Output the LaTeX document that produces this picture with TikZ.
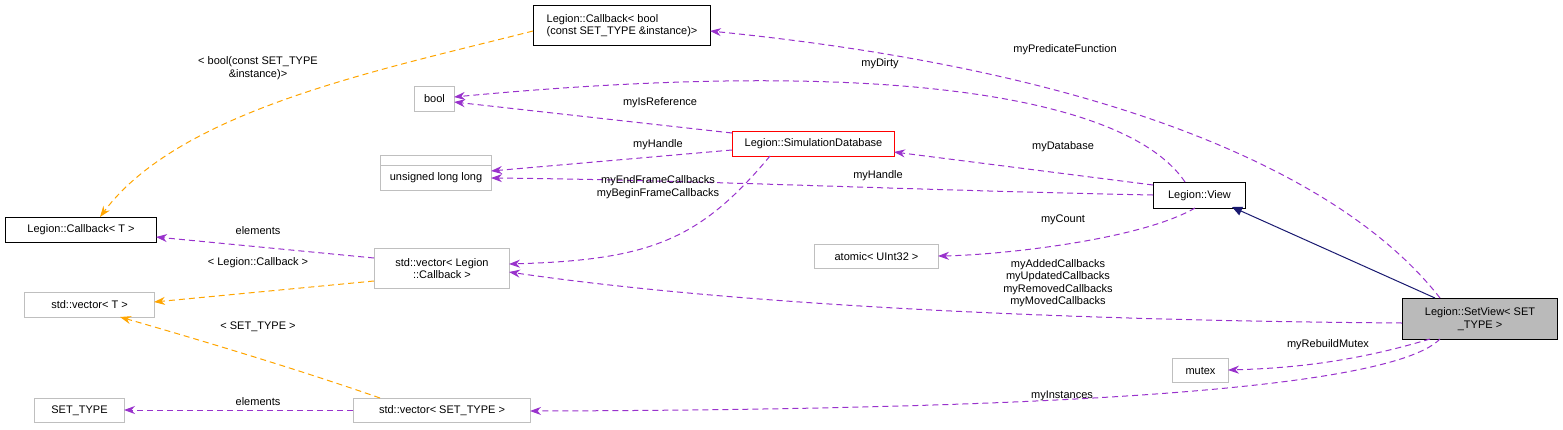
\documentclass[tikz,border=0pt]{standalone}
\usepackage{fontspec}
\setmainfont{Liberation Sans}
\usetikzlibrary{arrows.meta}
\definecolor{purp}{RGB}{153,50,204}
\definecolor{orng}{RGB}{255,165,0}
\definecolor{navy2}{RGB}{25,25,112}
\begin{document}
\begin{tikzpicture}[x=1pt,y=-1pt,font=\fontsize{11}{12.5}\selectfont,line width=1pt,
 box/.style={draw=black!25,fill=white,inner sep=0pt,align=center,anchor=north west},
 mem/.style={purp,dash pattern=on 6pt off 4pt,-{Stealth[length=11pt,width=8pt]}},
 tmpl/.style={orng,dash pattern=on 6pt off 4pt,-{Stealth[length=11pt,width=8pt]}},
 lbl/.style={align=center,inner sep=1pt}]
\useasboundingbox (0,0) rectangle (1563,429);
\newcommand{\bx}[6]{\node[box,#6,minimum width=#4-#2,minimum height=#5-#3] (#1) at (#2,#3) {};}
\bx{cbb}{533}{5}{710}{45}{draw=black}
\node at (cbb) [align=left] {Legion::Callback< bool\\(const SET\_TYPE \&instance)>};
\bx{bool}{414}{86}{454}{111}{}\node at (bool){bool};
\bx{sdb}{732}{131}{894}{156}{draw=red}\node at (sdb){Legion::SimulationDatabase};
\bx{ull}{380}{155}{491}{190}{}
\bx{ull}{380}{165}{491}{190}{}\node at (ull){unsigned long long};
\bx{view}{1153}{182}{1245}{208}{draw=black}\node at (view){Legion::View};
\bx{cbt}{5}{217}{156}{242}{draw=black}\node at (cbt){Legion::Callback< T >};
\bx{vcb}{374}{248}{509}{288}{}\node[align=center] at (vcb){std::vector< Legion\\::Callback >};
\bx{atom}{814}{244}{938}{268}{}\node at (atom){atomic< UInt32 >};
\bx{vt}{24}{292}{154}{317}{}\node at (vt){std::vector< T >};
\bx{sv}{1402}{298}{1557}{339}{draw=black,fill=black!27}\node[align=center] at (sv){Legion::SetView< SET\\\_TYPE >};
\bx{mutex}{1172}{358}{1228}{382}{}\node at (mutex){mutex};
\bx{st}{34}{398}{124}{422}{}\node at (st){SET\_TYPE};
\bx{vst}{353}{398}{530}{422}{}\node at (vst){std::vector< SET\_TYPE >};

\draw[navy2,-{Triangle[length=10pt,width=9pt]}] (1435,298) -- (1232,207);
\draw[mem] (1440,298) .. controls (1340,170) and (1100,70) .. (710,31);
\node[lbl] at (1065,50){myPredicateFunction};
\draw[mem] (1185,182) .. controls (1130,100) and (900,55) .. (454,97);
\node[lbl] at (880,64){myDirty};
\draw[mem] (732,133) -- (454,102);
\node[lbl] at (660,103){myIsReference};
\draw[mem] (732,150) -- (491,171);
\node[lbl] at (658,145){myHandle};
\draw[mem] (1153,185) -- (894,152);
\node[lbl] at (1063,147){myDatabase};
\draw[mem] (1153,195) .. controls (900,190) and (700,180) .. (491,178);
\node[lbl] at (878,176){myHandle};
\draw[mem] (770,156) .. controls (700,240) and (650,260) .. (509,264);
\node[lbl] at (658,187){myEndFrameCallbacks\\myBeginFrameCallbacks};
\draw[mem] (1195,208) .. controls (1140,240) and (1000,255) .. (938,256);
\node[lbl] at (1063,220){myCount};
\draw[mem] (374,258) -- (156,237);
\node[lbl] at (258,231){elements};
\draw[tmpl] (374,281) -- (154,302);
\node[lbl] at (258,263){< Legion::Callback >};
\draw[mem] (1402,323) .. controls (1000,320) and (700,300) .. (509,272);
\node[lbl] at (1058,283){myAddedCallbacks\\myUpdatedCallbacks\\myRemovedCallbacks\\myMovedCallbacks};
\draw[tmpl] (380,398) .. controls (300,370) and (200,340) .. (120,317);
\node[lbl] at (258,327){< SET\_TYPE >};
\draw[mem] (353,410) -- (124,410);
\node[lbl] at (258,402){elements};
\draw[mem] (1430,339) .. controls (1360,360) and (1300,368) .. (1228,370);
\node[lbl] at (1328,345){myRebuildMutex};
\draw[mem] (1440,339) .. controls (1380,400) and (900,410) .. (530,411);
\node[lbl] at (1062,396){myInstances};
\draw[tmpl] (533,31) .. controls (380,70) and (180,110) .. (100,217);
\node[lbl] at (258,68){< bool(const SET\_TYPE\\\&instance)>};
\end{tikzpicture}
\end{document}
